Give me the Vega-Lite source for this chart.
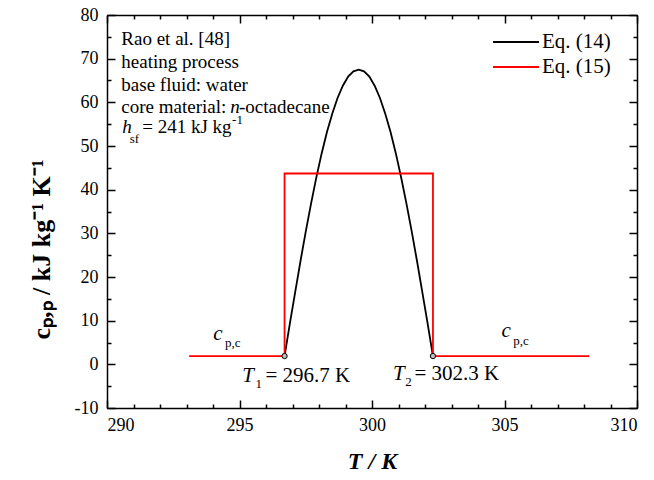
{
  "$schema": "https://vega.github.io/schema/vega-lite/v6.json",
  "width": 530,
  "height": 393,
  "autosize": {"type": "none"},
  "padding": {"left": 107, "top": 15, "right": 17, "bottom": 72},
  "background": "white",
  "config": {
    "view": {"stroke": null},
    "font": "Liberation Serif",
    "axis": {
      "grid": false,
      "domainColor": "#000000",
      "domainWidth": 1.5,
      "tickColor": "#000000",
      "tickWidth": 1.5,
      "labelFont": "Liberation Serif",
      "labelFontSize": 18,
      "labelColor": "#000000",
      "titleFont": "Liberation Serif",
      "titleFontSize": 24,
      "titleFontWeight": "bold",
      "titleColor": "#000000"
    },
    "legend": {
      "orient": "none",
      "legendX": 396.5,
      "legendY": 14.5,
      "title": null,
      "padding": 0,
      "symbolType": "M-2,0H2",
      "symbolSize": 529,
      "symbolStrokeWidth": 1.8,
      "symbolFillColor": "transparent",
      "labelFont": "Liberation Serif",
      "labelFontSize": 21,
      "labelColor": "#000000",
      "labelOffset": 13.5,
      "rowPadding": 2
    }
  },
  "datasets": {
    "curves": [
      {"series": "Eq. (14)", "i": 0, "T": 296.7, "c": 1.9},
      {"series": "Eq. (14)", "i": 1, "T": 296.9, "c": 9.3},
      {"series": "Eq. (14)", "i": 2, "T": 297.1, "c": 16.5},
      {"series": "Eq. (14)", "i": 3, "T": 297.3, "c": 23.6},
      {"series": "Eq. (14)", "i": 4, "T": 297.5, "c": 30.4},
      {"series": "Eq. (14)", "i": 5, "T": 297.7, "c": 36.8},
      {"series": "Eq. (14)", "i": 6, "T": 297.9, "c": 42.8},
      {"series": "Eq. (14)", "i": 7, "T": 298.1, "c": 48.3},
      {"series": "Eq. (14)", "i": 8, "T": 298.3, "c": 53.2},
      {"series": "Eq. (14)", "i": 9, "T": 298.5, "c": 57.4},
      {"series": "Eq. (14)", "i": 10, "T": 298.7, "c": 61.0},
      {"series": "Eq. (14)", "i": 11, "T": 298.9, "c": 63.8},
      {"series": "Eq. (14)", "i": 12, "T": 299.1, "c": 65.9},
      {"series": "Eq. (14)", "i": 13, "T": 299.3, "c": 67.1},
      {"series": "Eq. (14)", "i": 14, "T": 299.5, "c": 67.5},
      {"series": "Eq. (14)", "i": 15, "T": 299.7, "c": 67.1},
      {"series": "Eq. (14)", "i": 16, "T": 299.9, "c": 65.9},
      {"series": "Eq. (14)", "i": 17, "T": 300.1, "c": 63.8},
      {"series": "Eq. (14)", "i": 18, "T": 300.3, "c": 61.0},
      {"series": "Eq. (14)", "i": 19, "T": 300.5, "c": 57.4},
      {"series": "Eq. (14)", "i": 20, "T": 300.7, "c": 53.2},
      {"series": "Eq. (14)", "i": 21, "T": 300.9, "c": 48.3},
      {"series": "Eq. (14)", "i": 22, "T": 301.1, "c": 42.8},
      {"series": "Eq. (14)", "i": 23, "T": 301.3, "c": 36.8},
      {"series": "Eq. (14)", "i": 24, "T": 301.5, "c": 30.4},
      {"series": "Eq. (14)", "i": 25, "T": 301.7, "c": 23.6},
      {"series": "Eq. (14)", "i": 26, "T": 301.9, "c": 16.5},
      {"series": "Eq. (14)", "i": 27, "T": 302.1, "c": 9.3},
      {"series": "Eq. (14)", "i": 28, "T": 302.3, "c": 1.9},
      {"series": "Eq. (15)", "i": 0, "T": 293.1, "c": 1.9},
      {"series": "Eq. (15)", "i": 1, "T": 296.7, "c": 1.9},
      {"series": "Eq. (15)", "i": 2, "T": 296.7, "c": 43.7},
      {"series": "Eq. (15)", "i": 3, "T": 302.3, "c": 43.7},
      {"series": "Eq. (15)", "i": 4, "T": 302.3, "c": 1.9},
      {"series": "Eq. (15)", "i": 5, "T": 308.2, "c": 1.9}
    ],
    "transition": [
      {"T": 296.7, "c": 1.9},
      {"T": 302.3, "c": 1.9}
    ],
    "notes": [
      {"T": 290.54, "c": 73.13, "text": "Rao et al. [48]"},
      {"T": 290.54, "c": 67.79, "text": "heating process"},
      {"T": 290.54, "c": 62.67, "text": "base fluid: water"},
      {"T": 290.54, "c": 57.49, "text": "core material:"},
      {"T": 294.98, "c": 57.49, "text": "-octadecane"},
      {"T": 291.33, "c": 52.91, "text": "= 241 kJ kg"}
    ],
    "notesItalic": [
      {"T": 294.65, "c": 57.49, "text": "n"},
      {"T": 290.58, "c": 52.91, "text": "h"}
    ],
    "tempSymbols": [
      {"T": 295.10, "c": -4.0, "text": "T"},
      {"T": 300.79, "c": -3.6, "text": "T"},
      {"T": 294.01, "c": 5.58, "text": "c"},
      {"T": 304.89, "c": 6.2, "text": "c"}
    ],
    "tempValues": [
      {"T": 295.98, "c": -4.0, "text": "= 296.7 K"},
      {"T": 301.6, "c": -3.6, "text": "= 302.3 K"}
    ],
    "indices": [
      {"T": 295.6, "c": -5.41, "text": "1"},
      {"T": 301.25, "c": -4.96, "text": "2"},
      {"T": 294.45, "c": 3.9, "text": "p,c"},
      {"T": 305.33, "c": 4.43, "text": "p,c"},
      {"T": 290.86, "c": 50.69, "text": "sf"},
      {"T": 294.72, "c": 55.0, "text": "-1"}
    ]
  },
  "resolve": {"axis": {"x": "independent", "y": "independent"}},
  "layer": [
    {
      "data": {"name": "curves"},
      "mark": {"type": "line", "strokeWidth": 1.8},
      "encoding": {
        "x": {
          "field": "T",
          "type": "quantitative",
          "scale": {"domain": [290, 310], "nice": false, "zero": false},
          "axis": {
            "orient": "bottom",
            "values": [290, 291, 292, 293, 294, 295, 296, 297, 298, 299, 300, 301, 302, 303, 304, 305, 306, 307, 308, 309, 310],
            "labelExpr": "datum.value % 5 === 0 ? datum.label : ''",
            "tickSize": {"condition": {"test": "datum.value % 5 === 0", "value": -8}, "value": -4},
            "labelPadding": 16,
            "title": "T / K",
            "titleFontStyle": "italic",
            "titleAnchor": "middle",
            "titlePadding": 15
          }
        },
        "y": {
          "field": "c",
          "type": "quantitative",
          "scale": {"domain": [-10, 80], "nice": false, "zero": false},
          "axis": {
            "orient": "left",
            "values": [-10, -5, 0, 5, 10, 15, 20, 25, 30, 35, 40, 45, 50, 55, 60, 65, 70, 75, 80],
            "labelExpr": "datum.value % 10 === 0 ? replace(datum.label, '−', '-') : ''",
            "tickSize": {"condition": {"test": "datum.value % 10 === 0", "value": -8}, "value": -4},
            "labelPadding": 17,
            "title": "cₚ,ₚ / kJ kg⁻¹ K⁻¹",
            "titleFontSize": 26,
            "titlePadding": 20,
            "titleY": 234
          }
        },
        "order": {"field": "i", "type": "quantitative"},
        "color": {
          "field": "series",
          "type": "nominal",
          "scale": {"domain": ["Eq. (14)", "Eq. (15)"], "range": ["#000000", "#ff0000"]}
        }
      }
    },
    {
      "data": {"name": "transition"},
      "mark": {"type": "point", "filled": true, "fill": "#bdbdbd", "stroke": "#000000", "strokeWidth": 1, "size": 28, "opacity": 1},
      "encoding": {
        "x": {
          "field": "T",
          "type": "quantitative",
          "axis": {
            "orient": "top",
            "values": [290, 291, 292, 293, 294, 295, 296, 297, 298, 299, 300, 301, 302, 303, 304, 305, 306, 307, 308, 309, 310],
            "labels": false,
            "tickSize": {"condition": {"test": "datum.value % 5 === 0", "value": -8}, "value": -4},
            "title": null
          }
        },
        "y": {
          "field": "c",
          "type": "quantitative",
          "axis": {
            "orient": "right",
            "values": [-10, -5, 0, 5, 10, 15, 20, 25, 30, 35, 40, 45, 50, 55, 60, 65, 70, 75, 80],
            "labels": false,
            "tickSize": {"condition": {"test": "datum.value % 10 === 0", "value": -8}, "value": -4},
            "title": null
          }
        }
      }
    },
    {
      "data": {"name": "notes"},
      "mark": {"type": "text", "align": "left", "baseline": "alphabetic", "font": "Liberation Serif", "fontSize": 19, "color": "#000000"},
      "encoding": {
        "x": {"field": "T", "type": "quantitative", "axis": null},
        "y": {"field": "c", "type": "quantitative", "axis": null},
        "text": {"field": "text"}
      }
    },
    {
      "data": {"name": "notesItalic"},
      "mark": {"type": "text", "align": "left", "baseline": "alphabetic", "font": "Liberation Serif", "fontSize": 19, "fontStyle": "italic", "color": "#000000"},
      "encoding": {
        "x": {"field": "T", "type": "quantitative", "axis": null},
        "y": {"field": "c", "type": "quantitative", "axis": null},
        "text": {"field": "text"}
      }
    },
    {
      "data": {"name": "tempSymbols"},
      "mark": {"type": "text", "align": "left", "baseline": "alphabetic", "font": "Liberation Serif", "fontSize": 21, "fontStyle": "italic", "color": "#000000"},
      "encoding": {
        "x": {"field": "T", "type": "quantitative", "axis": null},
        "y": {"field": "c", "type": "quantitative", "axis": null},
        "text": {"field": "text"}
      }
    },
    {
      "data": {"name": "tempValues"},
      "mark": {"type": "text", "align": "left", "baseline": "alphabetic", "font": "Liberation Serif", "fontSize": 21, "color": "#000000"},
      "encoding": {
        "x": {"field": "T", "type": "quantitative", "axis": null},
        "y": {"field": "c", "type": "quantitative", "axis": null},
        "text": {"field": "text"}
      }
    },
    {
      "data": {"name": "indices"},
      "mark": {"type": "text", "align": "left", "baseline": "alphabetic", "font": "Liberation Serif", "fontSize": 13, "color": "#000000"},
      "encoding": {
        "x": {"field": "T", "type": "quantitative", "axis": null},
        "y": {"field": "c", "type": "quantitative", "axis": null},
        "text": {"field": "text"}
      }
    }
  ]
}
